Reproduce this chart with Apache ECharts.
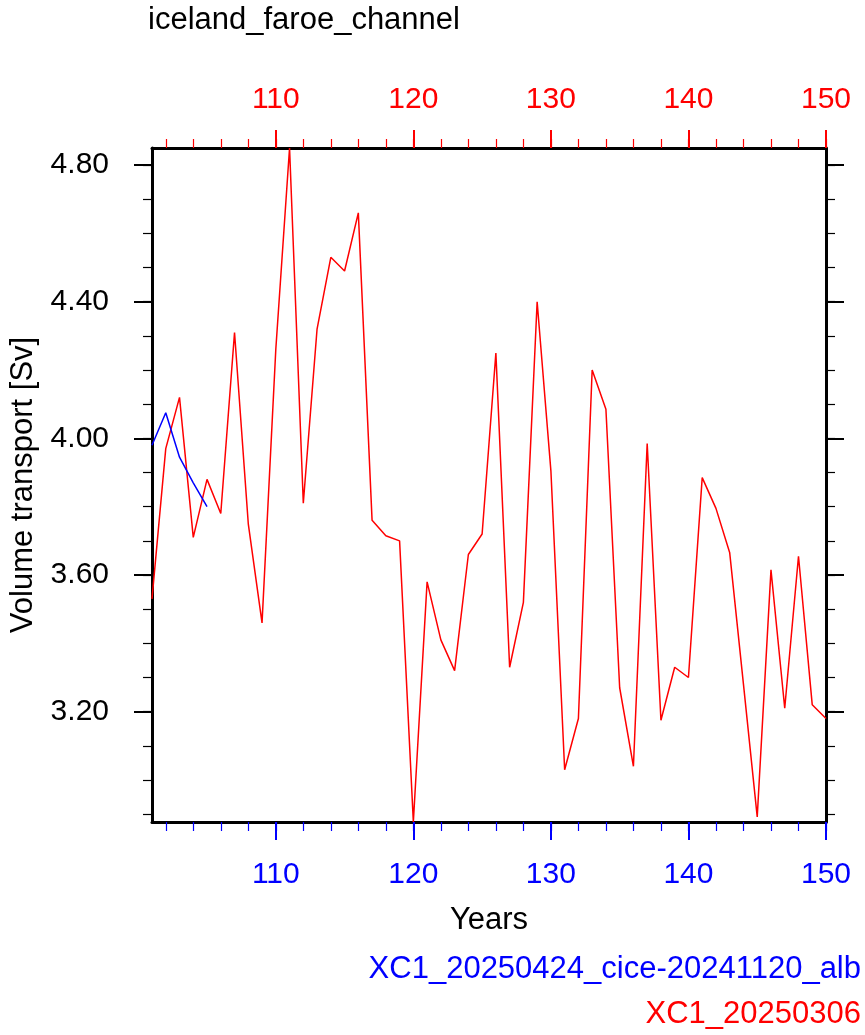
<!DOCTYPE html>
<html>
<head>
<meta charset="utf-8">
<script src="https://cdn.jsdelivr.net/npm/echarts@6/dist/echarts.min.js"></script>
<style>
  html, body { margin: 0; padding: 0; background: #fff; }
  #chart { width: 865px; height: 1035px; }
</style>
</head>
<body>
<div id="chart"></div>
<script>
// years on the x axis
var years = [101, 102, 103, 104, 105, 106, 107, 108, 109, 110,
  111, 112, 113, 114, 115, 116, 117, 118, 119, 120,
  121, 122, 123, 124, 125, 126, 127, 128, 129, 130,
  131, 132, 133, 134, 135, 136, 137, 138, 139, 140,
  141, 142, 143, 144, 145, 146, 147, 148, 149, 150]

// XC1_20250306 (red)
var redValues = [3.53, 3.97, 4.12, 3.71, 3.88, 3.78, 4.31, 3.75, 3.46, 4.26,
  4.85, 3.81, 4.32, 4.53, 4.49, 4.66, 3.76, 3.715, 3.70, 2.877,
  3.58, 3.41, 3.32, 3.66, 3.72, 4.25, 3.33, 3.52, 4.40, 3.905,
  3.03, 3.18, 4.20, 4.085, 3.27, 3.04, 3.985, 3.175, 3.33, 3.30,
  3.885, 3.795, 3.665, 3.28, 2.892, 3.615, 3.21, 3.655, 3.22, 3.18]

// XC1_20250424_cice-20241120_alb (blue), only the first 5 years
var blueValues = [3.98, 4.075, 3.945, 3.87, 3.80]

// tick positions
var xMajor = [110, 120, 130, 140, 150]
var xMinor = [102, 104, 106, 108, 110, 112, 114, 116, 118, 120, 122, 124, 126, 128, 130,
  132, 134, 136, 138, 140, 142, 144, 146, 148, 150]
var yMajor = [3.2, 3.6, 4.0, 4.4, 4.8]
var yMinor = [2.9, 3.0, 3.1, 3.2, 3.3, 3.4, 3.5, 3.6, 3.7, 3.8, 3.9, 4.0,
  4.1, 4.2, 4.3, 4.4, 4.5, 4.6, 4.7, 4.8]

function pairs(vals) {
  return vals.map(function(v, i) { return [years[i], v] })
}

var allVals = redValues.concat(blueValues)
var yMin = Math.min.apply(null, allVals)
var yMax = Math.max.apply(null, allVals)
var xMin = years[0]
var xMax = years[years.length - 1]

var FONT = 'Liberation Sans, Arial, Helvetica, sans-serif'

function xAxisOf(pos, color, major) {
  return {
    type: 'value',
    position: pos,
    min: xMin,
    max: xMax,
    splitLine: { show: false },
    axisLine: { show: major, onZero: false, lineStyle: { color: '#000', width: 3 } },
    axisTick: {
      show: true,
      inside: false,
      length: major ? 18 : 9,
      customValues: major ? xMajor : xMinor,
      lineStyle: { color: color, width: major ? 2 : 1.2 }
    },
    axisLabel: {
      show: major,
      customValues: xMajor,
      margin: pos === 'top' ? 33 : 38,
      color: color,
      fontSize: 30,
      fontFamily: FONT
    }
  }
}

function yAxisOf(pos, major) {
  return {
    type: 'value',
    position: pos,
    min: yMin,
    max: yMax,
    splitLine: { show: false },
    axisLine: { show: major, onZero: false, lineStyle: { color: '#000', width: 3 } },
    axisTick: {
      show: true,
      inside: false,
      length: major ? 18 : 9,
      customValues: major ? yMajor : yMinor,
      lineStyle: { color: '#000', width: major ? 2 : 1.2 }
    },
    axisLabel: {
      show: major && pos === 'left',
      customValues: yMajor,
      margin: 43,
      color: '#000',
      fontSize: 30,
      fontFamily: FONT,
      formatter: function(v) { return v.toFixed(2) }
    }
  }
}

var chart = echarts.init(document.getElementById('chart'), null, { renderer: 'canvas' })

var xAxes = [
  xAxisOf('bottom', '#0000ff', true),
  xAxisOf('top', '#ff0000', true),
  xAxisOf('bottom', '#0000ff', false),
  xAxisOf('top', '#ff0000', false)
]
xAxes[0].name = 'Years'
xAxes[0].nameLocation = 'middle'
xAxes[0].nameGap = 83
xAxes[0].nameTextStyle = { color: '#000', fontSize: 31, fontFamily: FONT }

var yAxes = [
  yAxisOf('left', true),
  yAxisOf('right', true),
  yAxisOf('left', false),
  yAxisOf('right', false)
]
yAxes[0].name = 'Volume transport [Sv]'
yAxes[0].nameLocation = 'middle'
yAxes[0].nameRotate = 90
yAxes[0].nameGap = 113
yAxes[0].nameTextStyle = { color: '#000', fontSize: 31, fontFamily: FONT }

chart.setOption({
  backgroundColor: '#fff',
  animation: false,
  title: {
    text: 'iceland_faroe_channel',
    left: 143,
    top: 0,
    textStyle: { color: '#000', fontSize: 31, fontWeight: 'normal', fontFamily: FONT }
  },
  grid: { left: 151, right: 39, top: 148, bottom: 213 },
  xAxis: xAxes,
  yAxis: yAxes,
  graphic: [{
    type: 'text',
    right: 4,
    top: 954,
    style: { text: 'XC1_20250424_cice-20241120_alb', fill: '#0000ff', fontSize: 31, fontFamily: FONT }
  }, {
    type: 'text',
    right: 4,
    top: 999,
    style: { text: 'XC1_20250306', fill: '#ff0000', fontSize: 31, fontFamily: FONT }
  }],
  series: [{
    name: 'XC1_20250306',
    type: 'line',
    xAxisIndex: 0,
    yAxisIndex: 0,
    showSymbol: false,
    lineStyle: { color: '#ff0000', width: 1.5 },
    data: pairs(redValues)
  }, {
    name: 'XC1_20250424_cice-20241120_alb',
    type: 'line',
    xAxisIndex: 0,
    yAxisIndex: 0,
    showSymbol: false,
    lineStyle: { color: '#0000ff', width: 1.5 },
    data: pairs(blueValues)
  }]
})
</script>
</body>
</html>
